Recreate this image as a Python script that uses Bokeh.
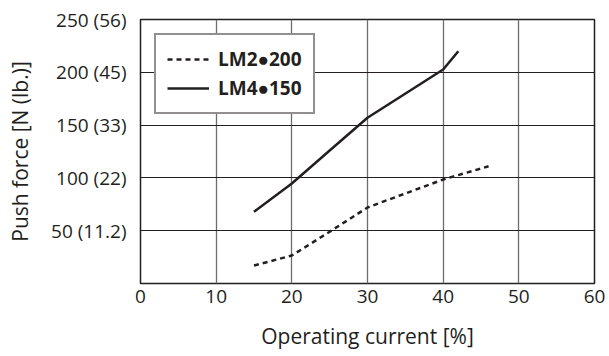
from bokeh.plotting import figure
from bokeh.models import FixedTicker, Legend, LegendItem, Range1d
from bokeh.embed import file_html
from bokeh.resources import INLINE

# Data
lm2_current = [15, 20, 25, 30, 40, 46]
lm2_force = [17, 26.5, 49, 72, 98.5, 111]
lm4_current = [15, 20, 25, 30, 40, 42]
lm4_force = [68, 94.7, 126, 157, 202.6, 220]

x_ticks = [0, 10, 20, 30, 40, 50, 60]
y_ticks = [0, 50, 100, 150, 200, 250]
y_tick_labels = {0: "", 50: "50 (11.2)", 100: "100 (22)", 150: "150 (33)",
                 200: "200 (45)", 250: "250 (56)"}
series_names = ["LM2\u25cf200", "LM4\u25cf150"]

FONT = "Open Sans"
INK = "#231f20"

p = figure(width=609, height=356, output_backend="svg", toolbar_location=None,
           x_range=Range1d(0, 60), y_range=Range1d(0, 250),
           min_border_left=140, min_border_right=15, min_border_top=19, min_border_bottom=73)

p.outline_line_color = INK
p.outline_line_width = 1.5
p.outline_line_alpha = 1.0

for ax in (p.xaxis[0], p.yaxis[0]):
    ax.axis_line_color = None
    ax.major_tick_line_color = None
    ax.minor_tick_line_color = None
    ax.major_label_text_font = FONT
    ax.major_label_text_font_size = "19px"
    ax.major_label_text_color = INK
    ax.axis_label_text_font = FONT
    ax.axis_label_text_font_size = "21px"
    ax.axis_label_text_font_style = "normal"
    ax.axis_label_text_color = INK

p.xaxis.ticker = FixedTicker(ticks=x_ticks)
p.xaxis.major_label_standoff = 0
p.xaxis.axis_label = "Operating current [%]"
p.xaxis.axis_label_standoff = 16

p.yaxis.ticker = FixedTicker(ticks=y_ticks)
p.yaxis.major_label_overrides = y_tick_labels
p.yaxis.major_label_standoff = 8
p.yaxis.axis_label = "Push force [N (lb.)]"
p.yaxis.axis_label_standoff = 14

p.xgrid.grid_line_color = "#6d6d6d"
p.xgrid.grid_line_width = 1.3
p.ygrid.grid_line_color = INK
p.ygrid.grid_line_width = 1.2

r2 = p.line(lm2_current, lm2_force, line_color=INK, line_width=2.5, line_dash="5 4")
r4 = p.line(lm4_current, lm4_force, line_color=INK, line_width=2.5)

legend = Legend(items=[LegendItem(label=series_names[0], renderers=[r2]),
                       LegendItem(label=series_names[1], renderers=[r4])],
                location="top_left", margin=14, padding=11, spacing=3,
                glyph_width=42, glyph_height=20, label_height=20, label_standoff=9,
                label_text_font=FONT, label_text_font_size="19px",
                label_text_font_style="bold", label_text_color=INK,
                border_line_color=INK, border_line_width=2,
                background_fill_color="white", background_fill_alpha=1.0)
p.add_layout(legend)

open("out.html", "w").write(file_html(p, INLINE))
